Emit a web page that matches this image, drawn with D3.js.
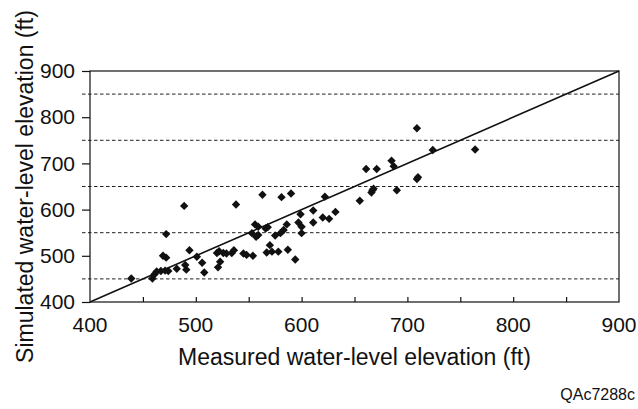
<!DOCTYPE html>
<meta charset="utf-8">
<style>
body { margin: 0; background: #fff; }
text { font-family: "Liberation Sans", Arial, Helvetica, sans-serif; fill: #111; }
.grid line { stroke: #222; stroke-width: 1; stroke-dasharray: 3.5,2.5; }
.frame { fill: none; stroke: #111; stroke-width: 1.2; }
</style>
<body>
<svg width="638" height="409"></svg>
<script src="https://cdn.jsdelivr.net/npm/d3@7"></script>
<script>
// measured vs simulated water-level elevation, ft
var measured = [439, 459, 461, 463, 467, 471, 474, 482, 490, 491,
  472, 469, 472, 489, 494, 501, 506, 508, 520, 523,
  521, 526, 534, 536, 538, 545, 548, 554, 556, 553,
  559, 557, 559, 563, 566, 568, 570, 567, 572, 578,
  581, 590, 586, 583, 580, 575, 587, 594, 599, 597,
  600, 600, 611, 611, 622, 620, 626, 632, 655, 661,
  671, 667, 666, 668, 685, 687, 690, 709, 710, 709,
  724, 764, 529, 522];
var simulated = [451, 451, 460, 466, 467, 468, 467, 472, 480, 470,
  547, 500, 496, 608, 512, 498, 485, 464, 506, 487,
  475, 506, 506, 512, 611, 505, 502, 500, 568, 549,
  545, 541, 563, 632, 559, 562, 523, 507, 509, 509,
  627, 635, 568, 556, 549, 544, 513, 492, 590, 572,
  563, 549, 598, 572, 628, 583, 580, 595, 619, 688,
  688, 642, 637, 645, 706, 694, 642, 776, 670, 666,
  729, 730, 505, 510];
var xTicks = [400, 500, 600, 700, 800, 900];
var yTicks = [400, 500, 600, 700, 800, 900];
var dashedAt = [450, 550, 650, 750, 850];
var xSmallTicks = [450, 500, 550, 600, 650, 700, 750, 800, 850];

var svg = d3.select("svg");
var pL = 90, pR = 619, pT = 71, pB = 302;

var x = d3.scaleLinear().domain([400, 900]).range([pL, pR]);
var y = d3.scaleLinear().domain([400, 900]).range([pB, pT]);

// dashed lines at the half-hundreds
svg.append("g")
    .attr("class", "grid")
  .selectAll("line")
  .data(dashedAt)
  .enter().append("line")
    .attr("x1", pL - 8)
    .attr("x2", pR)
    .attr("y1", function(d) { return y(d); })
    .attr("y2", function(d) { return y(d); });

// y axis: ticks out, labels left
var yAxis = svg.append("g")
    .attr("transform", "translate(" + pL + ",0)")
    .call(d3.axisLeft(y).tickValues(yTicks).tickSize(8).tickPadding(7).tickSizeOuter(0));
yAxis.select(".domain").remove();
yAxis.selectAll("line").attr("stroke", "#111").attr("stroke-width", 1.2);
yAxis.selectAll("text").style("font-size", "21px").attr("fill", "#111");

// x axis: small ticks pointing inward, labels below
var xAxis = svg.append("g")
    .attr("transform", "translate(0," + pB + ")")
    .call(d3.axisBottom(x).tickValues(xSmallTicks).tickSize(-5).tickFormat("").tickSizeOuter(0));
xAxis.select(".domain").remove();
xAxis.selectAll("line").attr("stroke", "#111").attr("stroke-width", 1.2);

svg.append("g")
  .selectAll("text")
  .data(xTicks)
  .enter().append("text")
    .attr("x", function(d) { return x(d); })
    .attr("y", pB + 30)
    .attr("text-anchor", "middle")
    .style("font-size", "21px")
    .text(function(d) { return d; });

// plot frame
svg.append("rect")
    .attr("class", "frame")
    .attr("x", pL)
    .attr("y", pT)
    .attr("width", pR - pL)
    .attr("height", pB - pT);

// 1:1 line
svg.append("line")
    .attr("x1", x(400)).attr("y1", y(400))
    .attr("x2", x(900)).attr("y2", y(900))
    .attr("stroke", "#111")
    .attr("stroke-width", 1.6);

var pts = measured.map(function(m, i) { return [m, simulated[i]]; });
var diamond = "M0,-4.2L4.2,0L0,4.2L-4.2,0Z";

svg.append("g")
  .selectAll("path")
  .data(pts)
  .enter().append("path")
    .attr("d", diamond)
    .attr("fill", "#111")
    .attr("transform", function(d) { return "translate(" + x(d[0]) + "," + y(d[1]) + ")"; });

svg.append("text")
    .attr("x", (pL + pR) / 2)
    .attr("y", 365)
    .attr("text-anchor", "middle")
    .style("font-size", "23px")
    .text("Measured water-level elevation (ft)");

svg.append("text")
    .attr("transform", "translate(33," + ((pT + pB) / 2) + ") rotate(-90)")
    .attr("text-anchor", "middle")
    .style("font-size", "23px")
    .text("Simulated water-level elevation (ft)");

svg.append("text")
    .attr("x", 635)
    .attr("y", 400)
    .attr("text-anchor", "end")
    .style("font-size", "16px")
    .text("QAc7288c");
</script>
</body>
